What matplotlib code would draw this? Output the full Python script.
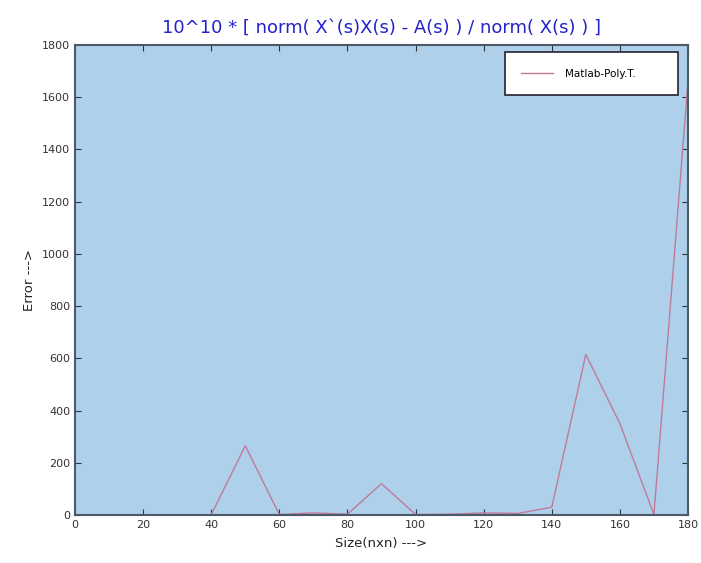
import numpy as np
from matplotlib import pyplot as plt

# matrix size vs scaled error
sizes = [0, 10, 20, 30, 40, 50, 60, 70, 80, 90, 100, 110, 120, 130, 140, 150, 160, 170, 180]
errors = [0, 0, 0, 0, 1, 265, 2, 8, 3, 120, 2, 3, 8, 6, 30, 615, 350, 2, 1660]

fig = plt.figure(figsize=(7.01, 5.63), dpi=100)
ax = fig.add_axes([75 / 701, 1 - 515 / 563, 613 / 701, 470 / 563])

ax.set_facecolor('#aed0ea')
ax.plot(sizes, errors, color='#c07a9a', lw=1.0, label='Matlab-Poly.T.')

ax.set_xlim(0, 180)
ax.set_ylim(0, 1800)
ax.set_xticks(np.arange(0, 181, 20))
ax.set_yticks(np.arange(0, 1801, 200))
ax.tick_params(direction='in', top=True, right=True, labelsize=8,
               colors='#333333', length=4)
for s in ax.spines.values():
    s.set_color('#4a5a6a')
    s.set_linewidth(1.5)

ax.set_xlabel('Size(nxn) --->', fontsize=9.5, color='#222222', labelpad=5)
ax.set_ylabel('Error --->', fontsize=9.5, color='#222222')
ax.set_title('10^10 * [ norm( X`(s)X(s) - A(s) ) / norm( X(s) ) ]',
             color='#2222cc', fontsize=13, pad=9)

leg = ax.legend(loc='upper left', fontsize=7.5, fancybox=False, framealpha=1,
                edgecolor='#222233', borderpad=1.6, handlelength=3.0,
                handletextpad=1.2, mode='expand', borderaxespad=0,
                bbox_to_anchor=(0.701, 0.0, 0.283, 0.985))
leg.get_frame().set_linewidth(1.2)

fig.savefig('out.png', dpi=100)
